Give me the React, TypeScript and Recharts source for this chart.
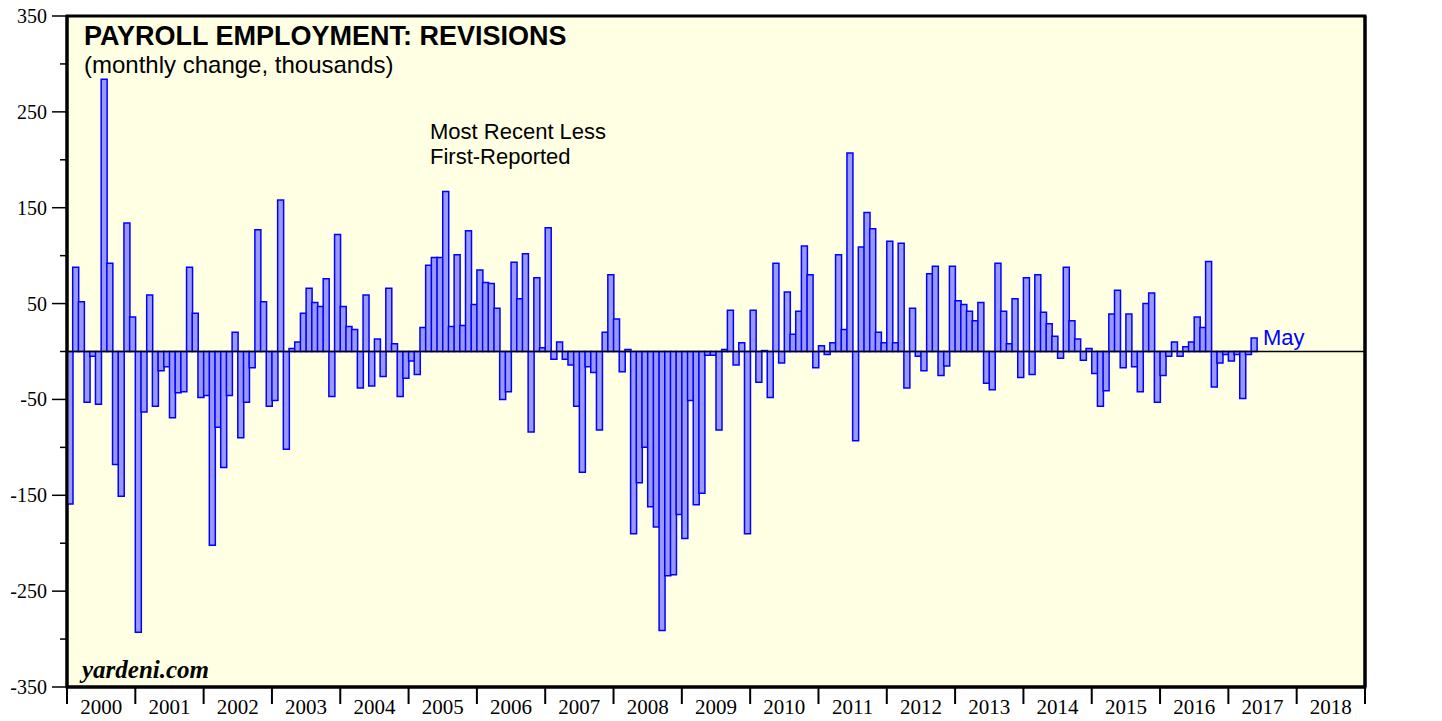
import React from 'react';
import { BarChart, Bar, XAxis, YAxis, ReferenceLine, ReferenceArea } from 'recharts';

// monthly revisions, thousands (most recent less first-reported)
const years = ['2000', '2001', '2002', '2003', '2004', '2005', '2006', '2007', '2008', '2009',
    '2010', '2011', '2012', '2013', '2014', '2015', '2016', '2017', '2018'];

const rev2000 = [-159, 88, 52, -53, -5, -55, 284, 92, -118, -151, 134, 36];
const rev2001 = [-293, -63, 59, -57, -20, -16, -69, -43, -42, 88, 40, -48];
const rev2002 = [-46, -202, -79, -121, -46, 20, -90, -53, -17, 127, 52, -57];
const rev2003 = [-51, 158, -102, 3, 10, 40, 66, 51, 47, 76, -47, 122];
const rev2004 = [47, 26, 23, -38, 59, -36, 13, -26, 66, 8, -47, -28];
const rev2005 = [-10, -24, 25, 90, 98, 98, 167, 26, 101, 27, 126, 49];
const rev2006 = [85, 72, 71, 45, -50, -42, 93, 55, 102, -84, 77, 4];
const rev2007 = [129, -8, 10, -8, -14, -57, -126, -16, -22, -82, 20, 80];
const rev2008 = [34, -21, 2, -190, -137, -100, -162, -183, -291, -234, -233, -170];
const rev2009 = [-195, -51, -160, -148, -4, -4, -82, 2, 43, -14, 9, -190];
const rev2010 = [43, -32, 1, -48, 92, -12, 62, 18, 42, 110, 80, -17];
const rev2011 = [6, -3, 9, 101, 23, 207, -93, 109, 145, 128, 20, 9];
const rev2012 = [115, 9, 113, -38, 45, -5, -20, 81, 89, -25, -15, 89];
const rev2013 = [53, 49, 42, 32, 51, -33, -40, 92, 42, 8, 55, -27];
const rev2014 = [77, -24, 80, 41, 29, 16, -7, 88, 32, 13, -9, 3];
const rev2015 = [-23, -57, -41, 39, 64, -17, 39, -16, -42, 50, 61, -53];
const rev2016 = [-25, -5, 10, -5, 5, 10, 36, 25, 94, -37, -12, -3];
const rev2017 = [-10, -3, -49, -3, 14];

const byYear: Record<string, number[]> = {
    '2000': rev2000, '2001': rev2001, '2002': rev2002, '2003': rev2003, '2004': rev2004,
    '2005': rev2005, '2006': rev2006, '2007': rev2007, '2008': rev2008, '2009': rev2009,
    '2010': rev2010, '2011': rev2011, '2012': rev2012, '2013': rev2013, '2014': rev2014,
    '2015': rev2015, '2016': rev2016, '2017': rev2017,
};

const yTicks = [-350, -300, -250, -200, -150, -100, -50, 0, 50, 100, 150, 200, 250, 300, 350];

const data: { key: string; value: number | null }[] = [];
years.forEach((y) => {
    for (let m = 0; m < 12; m++) {
        const vals = byYear[y] || [];
        data.push({ key: `${y}-${m}`, value: m < vals.length ? vals[m] : null });
    }
});

const W = 1442;
const H = 721;
const LEFT_W = 67;
const RIGHT_W = 77;
const BAND_HALF = (W - LEFT_W - RIGHT_W) / data.length / 2;

const SERIF = '"Liberation Serif", "Times New Roman", serif';
const SANS = '"Liberation Sans", Arial, Helvetica, sans-serif';

const LeftTick = (props: any) => {
    const { x, y, payload } = props;
    const labeled = Math.abs(payload.value) % 100 === 50;
    const len = labeled ? 15 : 7;
    return (
        <g>
            <line x1={x - len} x2={x} y1={y} y2={y} stroke="#000" strokeWidth={1.5} />
            {labeled && (
                <text x={x - len - 5} y={y} dy="0.35em" textAnchor="end" fontFamily={SERIF} fontSize={20} fill="#000">
                    {payload.value}
                </text>
            )}
        </g>
    );
};

const RightTick = (props: any) => {
    const { x, y, payload } = props;
    const labeled = Math.abs(payload.value) % 100 === 50;
    const len = labeled ? 15 : 7;
    return (
        <g>
            <line x1={x} x2={x + len} y1={y} y2={y} stroke="#000" strokeWidth={1.5} />
            {labeled && (
                <text x={x + len + 6} y={y} dy="0.35em" textAnchor="start" fontFamily={SERIF} fontSize={20} fill="#000">
                    {payload.value}
                </text>
            )}
        </g>
    );
};

const YearTick = (props: any) => {
    const { x, y, payload, index } = props;
    const half = payload.offset || BAND_HALF;
    const [yr, mStr] = String(payload.value).split('-');
    const m = Number(mStr);
    return (
        <g>
            {m === 0 && <line x1={x - half} x2={x - half} y1={y} y2={y + 17} stroke="#000" strokeWidth={2} />}
            {index === data.length - 1 && (
                <line x1={x + half} x2={x + half} y1={y} y2={y + 17} stroke="#000" strokeWidth={2} />
            )}
            {m === 6 && (
                <text x={x - half} y={y + 27} textAnchor="middle" fontFamily={SERIF} fontSize={21} fill="#000">
                    {yr}
                </text>
            )}
        </g>
    );
};

const App: React.FC = () => {
    return (
        <div style={{ position: 'absolute', left: 0, top: 0, width: W, height: H, background: '#fff' }}>
            <BarChart
                width={W}
                height={H}
                data={data}
                margin={{ top: 16, right: 0, bottom: 0, left: 0 }}
                barCategoryGap={0}
                barGap={0}
            >
                <XAxis
                    dataKey="key"
                    interval={0}
                    tickLine={false}
                    tickSize={0}
                    tickMargin={0}
                    height={34}
                    axisLine={{ stroke: '#000', strokeWidth: 3 }}
                    tick={<YearTick />}
                />
                <YAxis
                    yAxisId="left"
                    orientation="left"
                    width={LEFT_W}
                    domain={[-350, 350]}
                    ticks={yTicks}
                    interval={0}
                    tickLine={false}
                    tickSize={0}
                    tickMargin={0}
                    axisLine={{ stroke: '#000', strokeWidth: 3 }}
                    tick={<LeftTick />}
                />
                <YAxis
                    yAxisId="right"
                    orientation="right"
                    width={RIGHT_W}
                    domain={[-350, 350]}
                    ticks={yTicks}
                    interval={0}
                    tickLine={false}
                    tickSize={0}
                    tickMargin={0}
                    axisLine={{ stroke: '#000', strokeWidth: 3 }}
                    tick={<RightTick />}
                />
                <ReferenceArea
                    yAxisId="left"
                    y1={-350}
                    y2={350}
                    fill="#ffffe3"
                    fillOpacity={1}
                    stroke="#000"
                    strokeWidth={3}
                />
                <Bar
                    yAxisId="left"
                    dataKey="value"
                    fill="#9999ff"
                    stroke="#0000ff"
                    strokeWidth={1.5}
                    isAnimationActive={false}
                />
                <ReferenceLine yAxisId="left" y={0} stroke="#000" strokeWidth={1.5} />
            </BarChart>
            <svg
                width={W}
                height={H}
                style={{ position: 'absolute', left: 0, top: 0, pointerEvents: 'none' }}
            >
                <text x={84} y={45} fontFamily={SANS} fontWeight="bold" fontSize={27} fill="#000">
                    PAYROLL EMPLOYMENT: REVISIONS
                </text>
                <text x={84} y={73} fontFamily={SANS} fontSize={24} fill="#000">
                    (monthly change, thousands)
                </text>
                <text x={430} y={139} fontFamily={SANS} fontSize={22} fill="#000">
                    Most Recent Less
                </text>
                <text x={430} y={164} fontFamily={SANS} fontSize={22} fill="#000">
                    First-Reported
                </text>
                <text x={1263} y={345} fontFamily={SANS} fontSize={22} fill="#0000ff">
                    May
                </text>
                <text x={82} y={678} fontFamily={SERIF} fontStyle="italic" fontWeight="bold" fontSize={25} fill="#000">
                    yardeni.com
                </text>
            </svg>
        </div>
    );
};

export default App;
